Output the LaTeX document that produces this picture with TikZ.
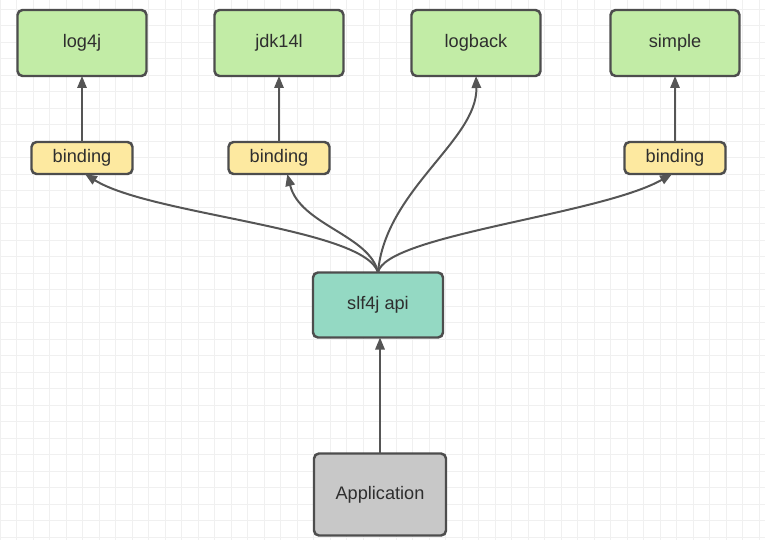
\documentclass[tikz,border=0pt]{standalone}
\usepackage{fontspec}
\usepackage{tikz}
\usetikzlibrary{positioning,arrows.meta}
\newfontfamily\boxfont{Liberation Sans}
\definecolor{gridgray}{RGB}{240,240,240}
\definecolor{boxline}{RGB}{77,77,77}
\definecolor{arrowgray}{RGB}{85,85,85}
\definecolor{mygreen}{RGB}{194,236,166}
\definecolor{myyellow}{RGB}{253,233,160}
\definecolor{myteal}{RGB}{148,217,195}
\definecolor{mygray}{RGB}{200,200,200}
\tikzset{
  slfpic/.style={
    x=0.03cm, y=-0.03cm
    ,inner sep=0pt
    ,outer sep=0pt
  }
  ,gridline/.style={draw=gridgray, line width=0.6pt}
  ,box/.style={rounded corners=0.15cm
    ,draw=boxline
    ,line width=2.1pt
    ,font={\boxfont\fontsize{15.5}{18}\selectfont\color{black!82}}
    ,align=center
  }
  ,logger/.style={box,fill=mygreen,minimum width=3.87cm,minimum height=1.98cm}
  ,bindbox/.style={box,fill=myyellow,minimum width=3.03cm,minimum height=0.96cm}
  ,apibox/.style={box,fill=myteal,minimum width=3.9cm,minimum height=1.95cm}
  ,appbox/.style={box,fill=mygray,minimum width=3.96cm,minimum height=2.46cm}
  ,link/.style={draw=arrowgray
    ,line width=1.7pt
    ,-{Triangle[length=0.36cm,width=0.28cm]}
  }
}

\begin{document}
\begin{tikzpicture}[slfpic]
  \useasboundingbox (0,0) rectangle (765,540);
  \fill[white] (0,0) rectangle (765,540);
  % grid
  \foreach \i in {0,...,46}{
    \draw[gridline] (\i*16.5,0) -- (\i*16.5,540);
  }
  \foreach \j in {0,...,32}{
    \draw[gridline] (0,9+\j*16.5) -- (765,9+\j*16.5);
  }
  % loggers
  \node[logger] (log4j) at (82,43) {log4j};
  \node[logger] (jdk) at (279,43) {jdk14l};
  \node[logger] (logback) at (476,43) {logback};
  \node[logger] (simple) at (675,43) {simple};
  % bindings
  \node[bindbox,below=1.98cm of log4j] (bindlog4j) {binding};
  \node[bindbox,below=1.98cm of jdk] (bindjdk) {binding};
  \node[bindbox,below=1.98cm of simple] (bindsimple) {binding};
  % api and application
  \node[apibox] (api) at (378,305) {slf4j api};
  \node[appbox,below=3.48cm of api,xshift=0.06cm] (app) {Application};
  % links
  \draw[link] (app) -- (app |- api.south);
  \draw[link] (bindlog4j) -- (log4j);
  \draw[link] (bindjdk) -- (jdk);
  \draw[link] (bindsimple) -- (simple);
  \draw[link] (api.north) .. controls (365,228) and (150,215) .. ([xshift=0.09cm]bindlog4j.south);
  \draw[link] (api.north) .. controls (370,235) and (300,225) .. ([xshift=0.25cm]bindjdk.south);
  \draw[link] (api.north) .. controls (385,190) and (478,140) .. (logback.south);
  \draw[link] (api.north) .. controls (385,235) and (600,215) .. ([xshift=-0.09cm]bindsimple.south);
\end{tikzpicture}
\end{document}
